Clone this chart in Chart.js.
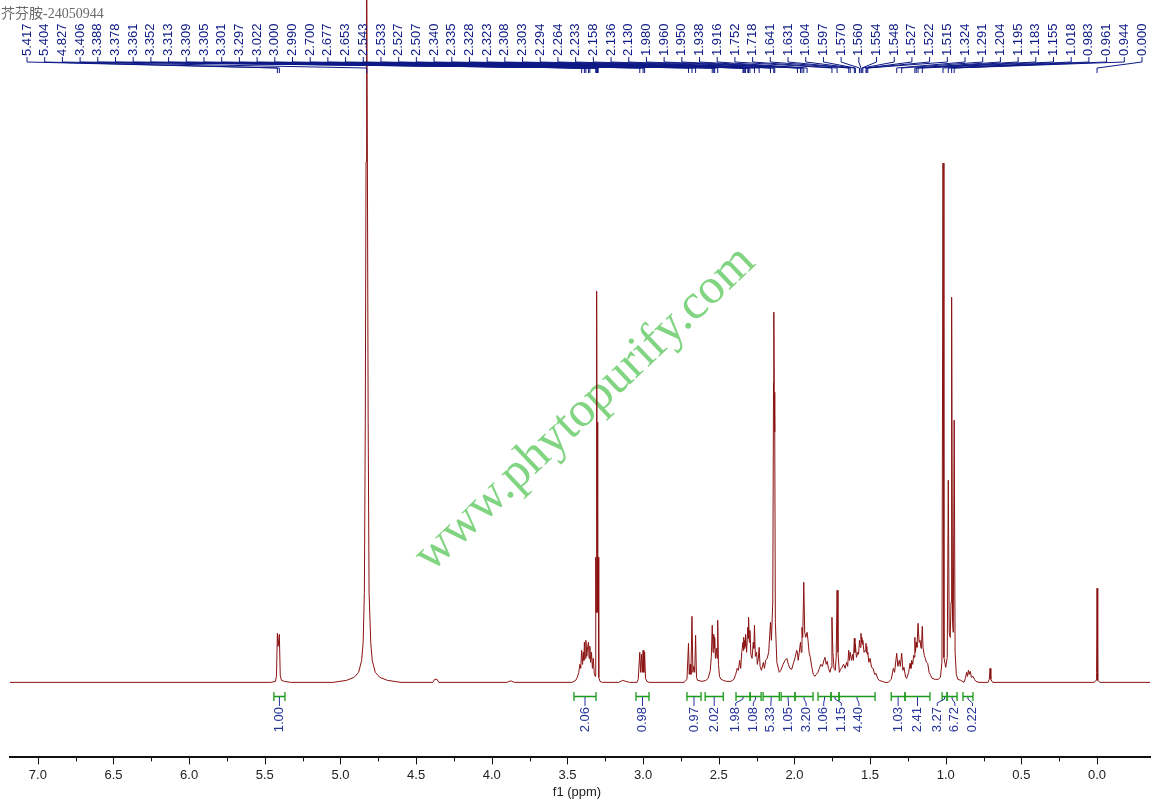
<!DOCTYPE html>
<html>
<head>
<meta charset="utf-8">
<script src="https://cdn.jsdelivr.net/npm/chart.js@4.4.1/dist/chart.umd.min.js"></script>
<style>
  html, body { margin: 0; padding: 0; background: #fff; }
  canvas { display: block; }
</style>
</head>
<body>
<canvas id="nmr-chart" width="1159" height="811"></canvas>
<script>
const sampleName = "芥芬胺-24050944";
const axisTitle = "f1 (ppm)";

// ppm range shown on the f1 axis
const ppmMin = -0.35;
const ppmMax = 7.184;

const traceOlefinic = [
  [7.184, 0], [5.46, 0], [5.43, 1], [5.423, 6], [5.417, 49], [5.412, 36], [5.404, 48],
  [5.398, 7], [5.39, 2], [5.37, 1], [5.33, 0],
];
const traceWater = [
  [5.05, 0], [4.96, 2], [4.91, 5], [4.88, 10], [4.86, 22], [4.85, 40], [4.842, 90],
  [4.836, 260], [4.831, 520], [4.827, 720], [4.822, 520], [4.817, 260], [4.811, 90],
  [4.8, 40], [4.79, 22], [4.77, 10], [4.74, 5], [4.69, 2], [4.6, 0],
  [4.39, 0], [4.378, 3], [4.362, 3], [4.35, 0], [3.9, 0], [3.875, 1.5], [3.85, 0],
];
const traceSolvent = [
  [3.47, 0], [3.445, 2], [3.435, 5], [3.425, 10], [3.418, 18], [3.412, 14], [3.406, 32],
  [3.4, 18], [3.395, 30], [3.391, 22], [3.388, 40], [3.383, 24], [3.378, 42], [3.372, 26],
  [3.366, 36], [3.361, 40], [3.357, 24], [3.352, 36], [3.347, 20], [3.341, 30], [3.335, 14],
  [3.329, 24], [3.323, 9], [3.317, 6], [3.313, 125], [3.311, 70], [3.309, 260], [3.307, 160],
  [3.305, 391], [3.303, 160], [3.301, 260], [3.299, 70], [3.297, 125], [3.293, 5],
  [3.285, 1], [3.27, 0],
];
const traceMethine = [
  [3.16, 0], [3.135, 2], [3.115, 1], [3.09, 0], [3.04, 0], [3.032, 3], [3.022, 30],
  [3.016, 10], [3.01, 28], [3.005, 10], [3.0, 32], [2.995, 10], [2.99, 30], [2.984, 4],
  [2.975, 1], [2.96, 0],
];
const traceAllylic = [
  [2.73, 0], [2.71, 3], [2.7, 39], [2.695, 8], [2.689, 18], [2.684, 8], [2.677, 66],
  [2.671, 10], [2.665, 16], [2.659, 10], [2.653, 47], [2.647, 5], [2.64, 2], [2.61, 1],
  [2.585, 2], [2.57, 4], [2.556, 12], [2.549, 26], [2.543, 57], [2.538, 30], [2.533, 48],
  [2.53, 34], [2.527, 45], [2.522, 24], [2.515, 34], [2.511, 24], [2.507, 62], [2.502, 18],
  [2.495, 6], [2.485, 3], [2.47, 2], [2.45, 1],
];
const traceMethylene = [
  [2.42, 1], [2.4, 3], [2.388, 8], [2.378, 14], [2.37, 12], [2.362, 22], [2.355, 14],
  [2.348, 30], [2.34, 40], [2.337, 32], [2.335, 45], [2.331, 34], [2.328, 42], [2.325, 36],
  [2.323, 48], [2.316, 30], [2.308, 55], [2.306, 44], [2.303, 65], [2.298, 40], [2.294, 52],
  [2.288, 28], [2.28, 24], [2.272, 40], [2.268, 34], [2.264, 57], [2.258, 26], [2.25, 30],
  [2.245, 18], [2.238, 24], [2.233, 35], [2.227, 16], [2.218, 12], [2.205, 20], [2.198, 14],
  [2.19, 22], [2.18, 24], [2.17, 30], [2.163, 48], [2.158, 60], [2.152, 42], [2.143, 80],
  [2.138, 300], [2.136, 370], [2.133, 290], [2.13, 250], [2.126, 60], [2.116, 20],
  [2.1, 10], [2.09, 12], [2.075, 18], [2.062, 22], [2.05, 24], [2.04, 18], [2.03, 14],
  [2.018, 13], [2.005, 20], [1.995, 25], [1.985, 32], [1.98, 30], [1.975, 22], [1.968, 30],
  [1.96, 40], [1.955, 30], [1.95, 55], [1.945, 45], [1.938, 100], [1.932, 50], [1.925, 45],
  [1.916, 50], [1.91, 42], [1.903, 30], [1.895, 25], [1.885, 15], [1.875, 8], [1.865, 6],
  [1.855, 8], [1.845, 10], [1.835, 14], [1.825, 18], [1.815, 16], [1.805, 22], [1.798, 25],
  [1.79, 18], [1.783, 21], [1.775, 14], [1.765, 10], [1.758, 15], [1.752, 65], [1.746, 30],
  [1.738, 14], [1.73, 12], [1.724, 25], [1.718, 92], [1.712, 30], [1.703, 10], [1.695, 13],
];
const traceHump = [
  [1.685, 15], [1.675, 18], [1.665, 14], [1.655, 20], [1.648, 16], [1.641, 32], [1.636, 22],
  [1.631, 30], [1.622, 22], [1.615, 28], [1.61, 22], [1.604, 44], [1.6, 30], [1.597, 38],
  [1.59, 25], [1.582, 30], [1.576, 28], [1.57, 42], [1.565, 35], [1.56, 49], [1.557, 40],
  [1.554, 45], [1.551, 38], [1.548, 42], [1.54, 30], [1.533, 32], [1.527, 39], [1.525, 30],
  [1.522, 36], [1.518, 28], [1.515, 30], [1.508, 20], [1.5, 24], [1.49, 15], [1.48, 14],
  [1.47, 8], [1.46, 9], [1.45, 4], [1.44, 2], [1.42, 1], [1.4, 0],
];
const traceMethyl = [
  [1.38, 0], [1.36, 3], [1.346, 14], [1.338, 10], [1.324, 29], [1.316, 16], [1.307, 22],
  [1.3, 16], [1.291, 29], [1.283, 12], [1.276, 15], [1.265, 5], [1.258, 4], [1.245, 10],
  [1.236, 19], [1.23, 14], [1.225, 22], [1.218, 18], [1.212, 27], [1.207, 25], [1.204, 45],
  [1.2, 30], [1.195, 40], [1.19, 35], [1.183, 59], [1.176, 40], [1.17, 42], [1.163, 34],
  [1.16, 38], [1.155, 56], [1.15, 35], [1.142, 27], [1.135, 24], [1.128, 20], [1.119, 19],
  [1.11, 10], [1.1, 7], [1.09, 4], [1.07, 3], [1.05, 3], [1.035, 5], [1.025, 20],
  [1.018, 519], [1.012, 25], [1.0, 15], [0.99, 25], [0.983, 202], [0.977, 50], [0.97, 45],
  [0.965, 80], [0.961, 385], [0.955, 60], [0.95, 50], [0.944, 262], [0.938, 30],
  [0.93, 8], [0.92, 3], [0.9, 2],
];
const traceHighField = [
  [0.88, 0], [0.87, 4], [0.862, 10], [0.856, 6], [0.85, 12], [0.844, 8], [0.838, 11],
  [0.83, 5], [0.82, 6], [0.81, 3], [0.8, 1], [0.78, 0], [0.72, 0], [0.712, 3], [0.707, 14],
  [0.702, 3], [0.69, 0], [0.02, 0], [0.006, 2], [0.003, 10], [0.0, 94], [-0.003, 10],
  [-0.006, 2], [-0.02, 0], [-0.35, 0],
];

// picked peaks printed across the top
const peakLabels = [
  "5.417", "5.404", "4.827", "3.406", "3.388", "3.378", "3.361", "3.352", "3.313", "3.309",
  "3.305", "3.301", "3.297", "3.022", "3.000", "2.990", "2.700", "2.677", "2.653", "2.543",
  "2.533", "2.527", "2.507", "2.340", "2.335", "2.328", "2.323", "2.308", "2.303", "2.294",
  "2.264", "2.233", "2.158", "2.136", "2.130", "1.980", "1.960", "1.950", "1.938", "1.916",
  "1.752", "1.718", "1.641", "1.631", "1.604", "1.597", "1.570", "1.560", "1.554", "1.548",
  "1.527", "1.522", "1.515", "1.324", "1.291", "1.204", "1.195", "1.183", "1.155", "1.018",
  "0.983", "0.961", "0.944", "0.000",
];

// integral regions (ppm) and their values
const integralFrom = [5.44, 3.457, 3.047, 2.71, 2.59, 2.386, 2.293, 2.207, 2.088, 1.996, 1.844, 1.758, 1.705, 1.36, 1.269, 1.024, 0.991, 0.886];
const integralTo = [5.367, 3.311, 2.961, 2.617, 2.47, 2.293, 2.22, 2.1, 1.996, 1.877, 1.758, 1.705, 1.467, 1.269, 1.104, 0.991, 0.925, 0.82];
const integralValues = ["1.00", "2.06", "0.98", "0.97", "2.02", "1.98", "1.08", "5.33", "1.05", "3.20", "1.06", "1.15", "4.40", "1.03", "2.41", "3.27", "6.72", "0.22"];

const traceData = [
  ...traceOlefinic, ...traceWater, ...traceSolvent, ...traceMethine, ...traceAllylic,
  ...traceMethylene, ...traceHump, ...traceMethyl, ...traceHighField,
].map(([x, y]) => ({ x: x, y: y }));

const sansFont = "'Liberation Sans', Arial, sans-serif";
const labelBlue = "#0d1a86";
const integralBlue = "#24339a";
const integralGreen = "#1b9a1b";

// spread overlapping labels evenly around the mean of their group
function spreadLabels(centers, gap) {
  let groups = centers.map((c, i) => ({ idx: [i], mean: c }));
  let merged = true;
  while (merged) {
    merged = false;
    for (let g = 0; g < groups.length - 1; g++) {
      const a = groups[g];
      const b = groups[g + 1];
      const aEnd = a.mean + ((a.idx.length - 1) * gap) / 2;
      const bStart = b.mean - ((b.idx.length - 1) * gap) / 2;
      if (bStart - aEnd < gap) {
        const idx = a.idx.concat(b.idx);
        const mean = idx.reduce((s, k) => s + centers[k], 0) / idx.length;
        groups.splice(g, 2, { idx: idx, mean: mean });
        merged = true;
        break;
      }
    }
  }
  const out = [];
  groups.forEach((gr) => {
    gr.idx.forEach((k, j) => {
      out[k] = gr.mean + (j - (gr.idx.length - 1) / 2) * gap;
    });
  });
  return out;
}

const watermark = {
  id: "watermark",
  beforeDatasetsDraw(chart) {
    const ctx = chart.ctx;
    ctx.save();
    ctx.translate(585, 409);
    ctx.rotate((-43.5 * Math.PI) / 180);
    ctx.font = "50px 'Liberation Serif', 'Times New Roman', serif";
    ctx.fillStyle = "rgba(118, 208, 118, 0.92)";
    ctx.textAlign = "center";
    ctx.textBaseline = "middle";
    ctx.fillText("www.phytopurify.com", 0, 0);
    ctx.restore();
  },
};

const annotations = {
  id: "annotations",
  afterDraw(chart) {
    const ctx = chart.ctx;
    const xs = chart.scales.x;
    const area = chart.chartArea;

    // sample name
    ctx.save();
    ctx.font = "14px 'Liberation Serif', 'Noto Sans CJK SC', serif";
    ctx.fillStyle = "#6a6a6a";
    ctx.textBaseline = "middle";
    ctx.fillText(sampleName, 1, 14);
    ctx.restore();

    // axis title
    ctx.save();
    ctx.font = "13px " + sansFont;
    ctx.fillStyle = "#222";
    ctx.textAlign = "center";
    ctx.textBaseline = "middle";
    ctx.fillText(axisTitle, (area.left + area.right) / 2 - 3, 792);
    ctx.restore();

    // minor / major tick marks on the f1 axis
    ctx.save();
    ctx.strokeStyle = "#111";
    ctx.lineWidth = 1;
    for (let v = 0; v <= 7.0001; v += 0.25) {
      const px = Math.round(xs.getPixelForValue(v)) + 0.5;
      const major = Math.abs(v / 0.5 - Math.round(v / 0.5)) < 1e-6;
      ctx.beginPath();
      ctx.moveTo(px, area.bottom);
      ctx.lineTo(px, area.bottom + (major ? 7 : 4));
      ctx.stroke();
    }
    ctx.restore();

    // peak labels across the top
    const left = 27;
    const step = (1142 - left) / (peakLabels.length - 1);
    ctx.save();
    ctx.font = "13px " + sansFont;
    ctx.fillStyle = labelBlue;
    ctx.strokeStyle = labelBlue;
    ctx.lineWidth = 1;
    peakLabels.forEach((label, i) => {
      const lx = left + i * step;
      const px = xs.getPixelForValue(parseFloat(label));
      ctx.beginPath();
      ctx.moveTo(lx, 57);
      ctx.lineTo(lx, 62);
      ctx.lineTo(px, 68);
      ctx.lineTo(px, 73);
      ctx.stroke();
      ctx.save();
      ctx.translate(lx, 56);
      ctx.rotate(-Math.PI / 2);
      ctx.textAlign = "left";
      ctx.textBaseline = "middle";
      ctx.fillText(label, 0, 0);
      ctx.restore();
    });
    ctx.restore();

    // integral brackets and values
    const centers = integralFrom.map(
      (a, i) => (xs.getPixelForValue(a) + xs.getPixelForValue(integralTo[i])) / 2
    );
    const labelX = spreadLabels(centers, 17.6);
    ctx.save();
    ctx.lineWidth = 1.3;
    integralFrom.forEach((a, i) => {
      const x1 = xs.getPixelForValue(a);
      const x2 = xs.getPixelForValue(integralTo[i]);
      ctx.strokeStyle = integralGreen;
      ctx.beginPath();
      ctx.moveTo(x1, 696.5);
      ctx.lineTo(x2, 696.5);
      ctx.moveTo(x1, 692);
      ctx.lineTo(x1, 701);
      ctx.moveTo(x2, 692);
      ctx.lineTo(x2, 701);
      ctx.stroke();
    });
    ctx.lineWidth = 1;
    ctx.font = "13px " + sansFont;
    ctx.fillStyle = integralBlue;
    ctx.strokeStyle = integralBlue;
    integralValues.forEach((val, i) => {
      const cx = centers[i];
      const lx = labelX[i];
      ctx.beginPath();
      ctx.moveTo(cx, 697);
      ctx.lineTo(cx, 699);
      ctx.lineTo(lx, 703);
      ctx.lineTo(lx, 706);
      ctx.stroke();
      ctx.save();
      ctx.translate(lx, 707);
      ctx.rotate(-Math.PI / 2);
      ctx.textAlign = "right";
      ctx.textBaseline = "middle";
      ctx.fillText(val, 0, 0);
      ctx.restore();
    });
    ctx.restore();
  },
};

new Chart(document.getElementById("nmr-chart"), {
  type: "line",
  data: {
    datasets: [
      {
        data: traceData,
        borderColor: "#8a1212",
        borderWidth: 1,
        pointRadius: 0,
        tension: 0,
        fill: false,
      },
    ],
  },
  options: {
    responsive: false,
    animation: false,
    layout: { padding: { left: 10, right: 9, top: 0, bottom: 18 } },
    scales: {
      x: {
        type: "linear",
        reverse: true,
        min: ppmMin,
        max: ppmMax,
        grid: { display: false, drawTicks: false },
        border: { display: true, color: "#111", width: 2 },
        ticks: {
          stepSize: 0.5,
          includeBounds: false,
          autoSkip: false,
          maxRotation: 0,
          padding: 10,
          color: "#222",
          font: { family: sansFont, size: 13 },
          callback: (v) => (v < -0.01 ? "" : Math.abs(v).toFixed(1)),
        },
      },
      y: { display: false, min: -75, max: 682 },
    },
    plugins: {
      legend: { display: false },
      tooltip: { enabled: false },
    },
  },
  plugins: [watermark, annotations],
});
</script>
</body>
</html>
